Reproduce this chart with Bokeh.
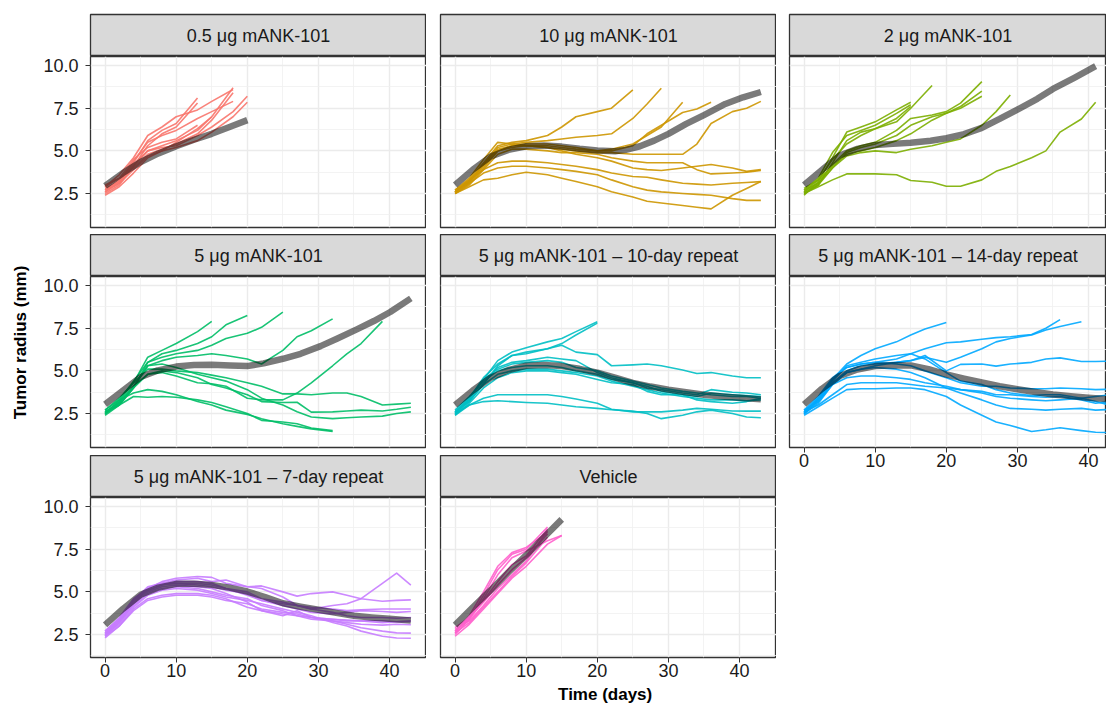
import math
from bokeh.plotting import figure
from bokeh.models import Range1d, FixedTicker, Grid, LinearAxis, PrintfTickFormatter
from bokeh.layouts import row, column
from bokeh.core.properties import value
from bokeh.embed import file_html
from bokeh.resources import INLINE

FONT = "Liberation Sans"

# ---------------- data ----------------
PANEL_TITLES = [
    "0.5 \u03bcg mANK-101", "10 \u03bcg mANK-101", "2 \u03bcg mANK-101",
    "5 \u03bcg mANK-101", "5 \u03bcg mANK-101 \u2013 10-day repeat", "5 \u03bcg mANK-101 \u2013 14-day repeat",
    "5 \u03bcg mANK-101 \u2013 7-day repeat", "Vehicle",
]
PANEL_COLORS = ["#F8766D", "#CD9600", "#7CAE00", "#00BE67", "#00BFC4", "#00A9FF", "#C77CFF", "#FF61CC"]

X_TICKS = [0, 10, 20, 30, 40]
X_MINOR = [5, 15, 25, 35]
Y_TICKS = [2.5, 5.0, 7.5, 10.0]
Y_MINOR = [1.25, 3.75, 6.25, 8.75]

DAYS_LONG = [0, 2, 4, 6, 8, 10, 13, 15, 17, 20, 22, 25, 27, 29, 32, 34, 36, 39, 41, 43]
TREND_DAYS_LONG = [0, 2.5, 5, 7.5, 10, 12.5, 15, 17.5, 20, 22.5, 25, 27.5, 30, 32.5, 35, 37.5, 40, 43]

# 0.5 ug
DAYS_05 = [0, 2, 4, 6, 8, 10, 13, 15, 18, 20]
MICE_05 = [
    [2.7, 3.3, 4.3, 5.6, 6.2, 6.6, 8.1],
    [2.6, 3.1, 4.1, 5.3, 6.0, 6.4, 7.8],
    [2.8, 3.2, 4.2, 5.0, 5.3, 5.6, 6.2, 7.0, 8.7],
    [2.9, 3.4, 4.0, 4.8, 5.1, 5.4, 6.0, 6.8, 8.4],
    [2.5, 3.0, 4.1, 5.0, 5.2, 5.3, 5.9, 6.4, 7.3, 8.2],
    [2.7, 3.1, 3.9, 4.7, 5.0, 5.2, 5.6, 6.1, 7.0, 7.85],
    [2.9, 3.6, 4.6, 5.9, 6.4, 7.0, 7.4, 7.9, 8.6],
    [2.6, 3.2, 4.4, 5.5, 5.9, 6.2, 6.9, 7.3, 7.9],
    [2.4, 2.9, 3.7, 4.6, 5.0, 5.5, 6.3, 7.0],
    [3.0, 3.4, 4.5, 5.2, 5.5, 5.7, 6.5],
]
TREND_DAYS_05 = [0, 2.5, 5, 7.5, 10, 12.5, 15, 17.5, 20]
TREND_05 = [2.95, 3.7, 4.35, 4.85, 5.27, 5.65, 6.0, 6.4, 6.8]

# 10 ug
MICE_10 = [
    [2.6, 3.3, 4.3, 5.3, 5.5, 5.6, 5.9, 6.4, 7.0, 7.3, 7.5, 8.57],
    [2.7, 3.4, 4.5, 5.5, 5.4, 5.5, 5.6, 5.7, 5.8, 5.9, 6.0, 6.9, 7.75, 8.67],
    [2.6, 3.2, 4.2, 5.2, 5.4, 5.3, 5.3, 5.2, 5.1, 5.0, 5.1, 5.4, 5.9, 6.4, 7.85],
    [2.5, 3.1, 4.0, 5.0, 5.3, 5.4, 5.4, 5.3, 5.2, 5.0, 5.0, 5.3, 6.0, 6.5, 7.25, 7.45, 7.85],
    [2.6, 3.2, 4.1, 5.0, 5.2, 5.3, 5.2, 5.1, 5.0, 4.9, 4.9, 4.8, 4.8, 4.8, 4.8, 5.4, 6.6, 7.3, 7.5, 7.9],
    [2.6, 3.2, 4.2, 5.1, 5.3, 5.3, 5.2, 5.0, 4.8, 4.6, 4.4, 4.0, 3.9, 3.85, 4.0, 4.1, 4.2, 4.0, 3.8, 3.9],
    [2.5, 3.0, 3.9, 4.8, 5.1, 5.1, 5.0, 4.9, 4.9, 4.8, 4.6, 4.4, 4.3, 4.3, 4.3, 3.9, 3.65, 3.7, 3.75, 3.85],
    [2.7, 3.3, 3.9, 4.3, 4.4, 4.4, 4.3, 4.2, 4.1, 3.9, 3.7, 3.5, 3.45, 3.3, 3.1, 3.05, 3.0, 3.1, 3.15, 3.2],
    [2.5, 2.9, 3.3, 3.4, 3.6, 3.75, 3.6, 3.4, 3.2, 2.9, 2.6, 2.3, 2.05, 1.95, 1.8, 1.7, 1.6, 2.4, 2.8, 3.2],
    [2.6, 3.1, 3.7, 4.0, 4.1, 4.1, 4.0, 3.9, 3.8, 3.6, 3.3, 2.9, 2.7, 2.6, 2.5, 2.45, 2.4, 2.2, 2.1, 2.1],
]
TREND_DAYS_10 = [0, 2.5, 5, 7.5, 10, 12.5, 15, 17.5, 20, 22.5, 24, 26, 28, 30, 32.5, 35, 38, 40.5, 43]
TREND_10 = [3.0, 3.9, 4.67, 5.06, 5.27, 5.31, 5.25, 5.12, 5.02, 4.98, 5.06, 5.27, 5.6, 6.0, 6.58, 7.1, 7.75, 8.14, 8.45]

# 2 ug
DAYS_2 = [0, 2, 4, 6, 8, 10, 13, 15, 18, 20, 22, 25, 27, 29, 32, 34, 36, 39, 41]
MICE_2 = [
    [2.5, 2.9, 3.3, 3.65, 3.65, 3.65, 3.6, 3.26, 3.16, 2.93, 2.93, 3.3, 3.8, 4.08, 4.6, 5.0, 6.1, 6.87, 7.85],
    [2.6, 3.3, 4.5, 5.4, 5.9, 6.3, 6.7, 7.5, 8.83],
    [2.4, 3.2, 4.6, 6.1, 6.4, 6.7, 7.4, 7.85],
    [2.7, 3.4, 4.9, 5.9, 6.2, 6.5, 7.2, 7.7],
    [2.5, 3.0, 4.3, 5.6, 6.1, 6.3, 6.9, 7.6],
    [2.7, 3.1, 4.2, 5.0, 5.3, 5.5, 6.2, 6.9, 7.1, 7.3, 7.8, 9.06],
    [2.5, 3.0, 4.0, 4.9, 5.2, 5.4, 5.9, 6.5, 7.0, 7.2, 7.6, 8.5],
    [2.8, 3.3, 4.1, 4.8, 5.0, 5.2, 5.6, 6.0, 6.8, 7.2, 7.5, 8.2],
    [2.6, 3.1, 4.0, 4.7, 4.9, 5.0, 4.9, 5.1, 5.3, 5.5, 5.7, 6.5, 7.3, 8.28],
]
TREND_DAYS_2 = [0, 2.8, 5, 7.5, 10, 12.5, 15, 17.8, 20, 22.5, 25, 27.5, 30, 32.8, 35, 38, 41]
TREND_2 = [3.0, 3.98, 4.73, 5.12, 5.35, 5.41, 5.47, 5.59, 5.74, 5.98, 6.35, 6.87, 7.42, 8.05, 8.63, 9.28, 9.96]

# 5 ug
MICE_5 = [
    [2.5, 3.2, 4.3, 5.8, 6.2, 6.6, 7.3, 7.9],
    [2.6, 3.0, 4.0, 5.5, 6.0, 6.2, 6.6, 7.0, 7.7, 8.24],
    [2.7, 3.3, 4.4, 5.5, 5.8, 6.0, 6.2, 6.5, 6.9, 7.2, 7.55, 8.44],
    [2.5, 3.0, 4.0, 5.3, 5.6, 5.8, 5.9, 6.0, 5.9, 5.7, 5.4, 6.2, 7.0, 7.35, 8.05],
    [2.6, 3.1, 4.1, 4.8, 4.9, 4.7, 4.3, 4.25, 4.1, 3.4, 3.3, 3.3, 3.7, 4.3, 5.3, 6.0, 6.6, 7.9],
    [2.4, 3.0, 3.5, 3.45, 3.5, 3.45, 3.3, 3.15, 2.9, 2.5, 2.1, 2.0, 1.9, 1.65, 1.5],
    [2.5, 3.3, 3.7, 3.9, 3.8, 3.6, 3.2, 3.0, 2.7, 2.45, 2.2, 1.9, 1.75, 1.6, 1.45],
    [2.7, 3.4, 4.3, 5.1, 5.1, 5.0, 4.9, 4.75, 4.6, 4.3, 4.1, 3.65, 3.65, 3.6, 3.7, 3.7, 3.5, 3.0, 3.05, 3.1],
    [2.5, 3.2, 4.0, 4.8, 5.0, 4.9, 4.6, 4.2, 4.0, 3.6, 3.2, 3.15, 3.16, 2.58, 2.6, 2.65, 2.7, 2.65, 2.75, 2.87],
    [2.6, 3.1, 4.1, 5.3, 5.4, 5.2, 4.8, 4.6, 4.4, 3.9, 3.4, 3.0, 2.6, 2.3, 2.2, 2.25, 2.3, 2.35, 2.5, 2.6],
]
TREND_DAYS_5 = [0, 2.7, 5, 7.4, 10, 12.5, 15, 17.6, 20, 22.3, 25, 27.5, 30.3, 32.6, 35.4, 37.8, 40.1, 43]
TREND_5 = [3.04, 3.9, 4.64, 5.03, 5.25, 5.34, 5.36, 5.32, 5.28, 5.44, 5.71, 6.0, 6.45, 6.88, 7.43, 7.92, 8.45, 9.25]

# 5 ug, 10-day repeat
MICE_5_10D = [
    [2.5, 3.3, 4.5, 5.6, 6.1, 6.35, 6.7, 6.9, 7.3, 7.88],
    [2.6, 3.4, 4.6, 5.4, 5.9, 6.0, 6.3, 6.6, 7.1, 7.8],
    [2.6, 3.2, 4.2, 5.3, 5.9, 6.1, 6.3, 6.5, 6.1, 5.95, 5.3, 5.35, 5.4, 5.3, 5.05, 4.85, 4.9, 4.7, 4.6, 4.6],
    [2.4, 3.0, 3.4, 3.6, 3.6, 3.6, 3.6, 3.5, 3.35, 3.1, 2.75, 2.6, 2.6, 2.6, 2.7, 2.8, 2.75, 2.65, 2.64, 2.64],
    [2.5, 3.0, 3.2, 3.25, 3.2, 3.15, 3.1, 3.0, 2.9, 2.8, 2.72, 2.64, 2.5, 2.2, 2.4, 2.6, 2.7, 2.5, 2.3, 2.25],
    [2.5, 3.4, 4.5, 5.1, 5.4, 5.5, 5.6, 5.5, 5.2, 5.0, 4.7, 4.4, 4.2, 4.0, 3.8, 3.7, 3.6, 3.5, 3.5, 3.4],
    [2.7, 3.5, 4.4, 5.0, 5.2, 5.3, 5.3, 5.2, 5.0, 4.8, 4.5, 4.3, 4.0, 3.9, 3.7, 3.6, 3.9, 3.75, 3.7, 3.6],
    [2.6, 3.3, 4.2, 4.8, 5.0, 5.1, 5.1, 5.0, 4.9, 4.7, 4.4, 4.1, 3.9, 3.7, 3.5, 3.4, 3.3, 3.3, 3.25, 3.3],
    [2.4, 3.1, 4.0, 4.6, 4.9, 5.0, 5.0, 4.9, 4.8, 4.5, 4.3, 4.2, 3.8, 3.6, 3.6, 3.3, 3.2, 3.1, 3.2, 3.4],
    [2.5, 3.2, 4.3, 5.2, 5.5, 5.6, 5.8, 5.7, 5.6, 4.9, 4.6, 4.3, 4.1, 3.8, 3.6, 3.5, 3.7, 3.6, 3.55, 3.5],
]
TREND_5_10D = [3.0, 3.85, 4.6, 5.05, 5.3, 5.35, 5.28, 5.12, 4.9, 4.6, 4.3, 4.08, 3.9, 3.75, 3.6, 3.5, 3.42, 3.33]

# 5 ug, 14-day repeat
MICE_5_14D = [
    [2.5, 3.3, 4.5, 5.4, 5.9, 6.3, 6.7, 7.1, 7.45, 7.83],
    [2.6, 3.4, 4.5, 5.2, 5.4, 5.5, 5.7, 6.0, 6.3, 6.65, 6.7, 6.85, 6.95, 7.0, 7.13, 7.5, 8.0],
    [2.7, 3.2, 4.3, 5.0, 5.3, 5.4, 5.5, 5.6, 5.8, 5.5, 5.8, 6.3, 6.7, 6.9, 7.1, 7.4, 7.6, 7.88],
    [2.5, 3.1, 4.2, 4.9, 5.1, 5.3, 5.5, 5.6, 5.9, 5.0, 5.38, 5.4, 5.28, 5.4, 5.5, 5.7, 5.76, 5.55, 5.55, 5.57],
    [2.4, 2.9, 3.4, 3.9, 3.95, 3.95, 4.0, 4.0, 3.9, 3.5, 3.0, 2.4, 2.0, 1.8, 1.45, 1.55, 1.67, 1.5, 1.4, 1.38],
    [2.6, 3.3, 4.3, 4.9, 5.1, 5.2, 5.1, 4.9, 4.6, 4.0, 3.7, 3.3, 3.0, 2.8, 2.75, 2.7, 2.75, 2.8, 2.7, 2.74],
    [2.7, 3.5, 4.6, 5.2, 5.4, 5.5, 5.4, 5.3, 5.0, 4.6, 4.3, 4.1, 4.1, 4.0, 3.95, 3.95, 4.0, 3.95, 3.9, 3.92],
    [2.5, 3.2, 4.2, 4.6, 4.7, 4.7, 4.6, 4.5, 4.3, 4.1, 3.9, 3.7, 3.5, 3.4, 3.3, 3.25, 3.3, 3.4, 3.2, 3.0],
    [2.6, 3.0, 3.6, 4.2, 4.3, 4.3, 4.3, 4.2, 4.1, 4.0, 3.9, 3.8, 3.6, 3.6, 3.5, 3.45, 3.5, 3.3, 3.1, 3.2],
    [2.5, 3.4, 4.4, 5.3, 5.5, 5.7, 5.9, 6.0, 5.7, 4.9, 4.4, 4.2, 3.9, 3.7, 3.55, 3.6, 3.6, 3.4, 3.5, 3.6],
]
TREND_5_14D = [3.04, 3.95, 4.7, 5.08, 5.28, 5.33, 5.32, 5.1, 4.8, 4.55, 4.32, 4.1, 3.92, 3.76, 3.62, 3.52, 3.43, 3.33]

# 5 ug, 7-day repeat
MICE_5_7D = [
    [2.4, 3.2, 4.3, 5.2, 5.6, 5.8, 5.9, 5.85, 5.5, 5.3, 5.2, 4.7, 4.2, 4.0, 4.2, 4.3, 4.6, 5.5, 6.1, 5.4],
    [2.6, 3.4, 4.5, 5.3, 5.5, 5.7, 5.8, 5.6, 5.7, 5.3, 5.35, 5.0, 4.75, 4.9, 5.0, 4.8, 4.6, 4.45, 4.5, 4.53],
    [2.5, 3.3, 4.4, 5.1, 5.4, 5.6, 5.6, 5.5, 5.2, 4.8, 4.5, 4.3, 4.2, 4.1, 4.0, 3.9, 3.95, 4.0, 4.0, 4.0],
    [2.7, 3.5, 4.6, 5.2, 5.5, 5.5, 5.4, 5.3, 5.1, 4.9, 4.5, 4.2, 4.0, 3.8, 3.7, 3.8, 3.9, 3.85, 3.8, 3.85],
    [2.4, 3.0, 3.9, 4.5, 4.7, 4.8, 4.8, 4.7, 4.5, 4.3, 4.0, 3.8, 3.7, 3.5, 3.4, 3.35, 3.3, 3.3, 3.25, 3.26],
    [2.6, 3.3, 4.3, 5.0, 5.3, 5.4, 5.3, 5.2, 4.9, 4.4, 3.9, 3.6, 3.9, 3.5, 3.3, 3.2, 3.1, 3.05, 3.1, 3.07],
    [2.5, 3.2, 4.2, 4.9, 5.2, 5.3, 5.2, 5.0, 4.8, 4.6, 4.2, 3.9, 3.6, 3.4, 3.3, 3.1, 2.9, 2.7, 2.6, 2.58],
    [2.5, 3.1, 4.1, 4.8, 5.1, 5.2, 5.1, 4.9, 4.7, 4.5, 4.3, 4.0, 3.8, 3.6, 3.2, 3.0, 2.7, 2.4, 2.3, 2.28],
    [2.7, 3.4, 4.5, 5.1, 5.4, 5.5, 5.5, 5.4, 5.2, 5.0, 4.6, 4.4, 4.2, 4.0, 3.8, 3.6, 3.5, 3.5, 3.45, 3.5],
    [2.3, 3.0, 4.0, 4.6, 4.8, 4.9, 4.9, 4.8, 4.6, 4.1, 3.9, 3.7, 3.6, 3.5, 3.4, 3.3, 3.3, 3.2, 3.25, 3.3],
]
TREND_5_7D = [3.07, 4.0, 4.83, 5.25, 5.47, 5.47, 5.41, 5.25, 5.02, 4.7, 4.33, 4.13, 3.95, 3.77, 3.6, 3.5, 3.42, 3.32]

# Vehicle
DAYS_VEH = [0, 2, 4, 6, 8, 10, 13, 15]
MICE_VEH = [
    [2.5, 3.4, 4.8, 6.3, 7.2, 7.5, 8.8],
    [2.6, 3.6, 5.0, 6.5, 7.3, 7.6, 8.5],
    [2.7, 3.5, 4.6, 6.0, 7.0, 7.4, 8.0, 8.3],
    [2.8, 3.3, 4.2, 5.2, 6.0, 6.8, 8.6],
    [2.6, 3.2, 4.1, 5.0, 5.9, 6.7, 8.2],
    [2.9, 3.5, 4.4, 5.4, 6.3, 7.0, 8.4],
    [2.4, 3.1, 4.0, 4.9, 5.8, 6.5, 7.8, 8.3],
    [2.7, 3.4, 4.5, 5.6, 6.6, 7.1, 8.7],
]
TREND_DAYS_VEH = [0, 2.5, 5, 7.5, 10, 12.5, 15]
TREND_VEH = [3.05, 4.1, 5.1, 6.15, 7.15, 8.2, 9.25]

PANELS = [
    (DAYS_05, MICE_05, TREND_DAYS_05, TREND_05),
    (DAYS_LONG, MICE_10, TREND_DAYS_10, TREND_10),
    (DAYS_2, MICE_2, TREND_DAYS_2, TREND_2),
    (DAYS_LONG, MICE_5, TREND_DAYS_5, TREND_5),
    (DAYS_LONG, MICE_5_10D, TREND_DAYS_LONG, TREND_5_10D),
    (DAYS_LONG, MICE_5_14D, TREND_DAYS_LONG, TREND_5_14D),
    (DAYS_LONG, MICE_5_7D, TREND_DAYS_LONG, TREND_5_7D),
    (DAYS_VEH, MICE_VEH, TREND_DAYS_VEH, TREND_VEH),
]

# ---------------- layout / styling ----------------
X_START, X_END = -2.05, 45.2
Y_START, Y_END = 0.51, 10.53
FW = 336
PX_PER_DAY = FW / (X_END - X_START)
FW3 = 317
X_END3 = X_START + FW3 / PX_PER_DAY
FH = 171
PX_PER_UNIT = FH / (Y_END - Y_START)
FH3 = 160
Y_START3 = Y_END - FH3 / PX_PER_UNIT
HH = 42
BORDER = "#333333"
TICK_FONT = "18px"
STRIP_FONT = "18px"
TITLE_FONT = "17px"


def header(title, lb, fw, tb):
    p = figure(width=lb + fw, height=tb + HH, x_range=Range1d(0, 1), y_range=Range1d(0, 1),
               x_axis_type=None, y_axis_type=None, toolbar_location=None, output_backend="svg",
               min_border_left=lb, min_border_right=0, min_border_top=tb, min_border_bottom=0)
    p.background_fill_color = "#D9D9D9"
    p.border_fill_color = "white"
    p.outline_line_color = BORDER
    p.outline_line_width = 1.3
    p.text(x=[0.5], y=[0.5], text=[title], text_align="center", text_baseline="middle",
           text_font=value(FONT), text_font_size=STRIP_FONT, text_color="#1A1A1A")
    return p


def panel(i, lb, fw, fh, bb, x_end, y_start, show_x, show_y):
    p = figure(width=lb + fw, height=fh + bb, x_range=Range1d(X_START, x_end),
               y_range=Range1d(y_start, Y_END), x_axis_type=None, y_axis_type=None,
               toolbar_location=None, output_backend="svg",
               min_border_left=lb, min_border_right=0, min_border_top=0, min_border_bottom=bb)
    p.background_fill_color = "white"
    p.border_fill_color = "white"
    p.outline_line_color = BORDER
    p.outline_line_width = 1.3
    for dim, ticks, minor in ((0, X_TICKS, X_MINOR), (1, Y_TICKS, Y_MINOR)):
        p.add_layout(Grid(dimension=dim, ticker=FixedTicker(ticks=ticks, minor_ticks=minor),
                          grid_line_color="#EBEBEB", grid_line_width=1.4,
                          minor_grid_line_color="#F0F0F0", minor_grid_line_width=0.8))
    if show_x:
        ax = LinearAxis(ticker=FixedTicker(ticks=X_TICKS))
        ax.axis_line_color = None
        ax.major_tick_line_color = BORDER
        ax.major_tick_out = 5
        ax.major_tick_in = 0
        ax.minor_tick_line_color = None
        ax.major_label_standoff = 1
        ax.major_label_text_font = FONT
        ax.major_label_text_font_size = TICK_FONT
        ax.major_label_text_color = "#1A1A1A"
        p.add_layout(ax, "below")
    if show_y:
        ay = LinearAxis(ticker=FixedTicker(ticks=Y_TICKS), formatter=PrintfTickFormatter(format="%.1f"))
        ay.axis_line_color = None
        ay.major_tick_line_color = BORDER
        ay.major_tick_out = 5
        ay.major_tick_in = 0
        ay.minor_tick_line_color = None
        ay.major_label_standoff = 7
        ay.major_label_text_font = FONT
        ay.major_label_text_font_size = TICK_FONT
        ay.major_label_text_color = "#1A1A1A"
        p.add_layout(ay, "left")
    days, mice, tdays, tvals = PANELS[i]
    for vals in mice:
        p.line(days[:len(vals)], vals, line_color=PANEL_COLORS[i], line_width=1.6,
               line_alpha=0.9, line_join="round")
    p.line(tdays, tvals, line_color="black", line_alpha=0.52, line_width=6.5, line_join="round")
    return p


LB1, LB2, LB3 = 60, 14, 13
TOP = 14
BB3 = 25
col1 = column(
    header(PANEL_TITLES[0], LB1, FW, TOP), panel(0, LB1, FW, FH, 7, X_END, Y_START, False, True),
    header(PANEL_TITLES[3], LB1, FW, 0), panel(3, LB1, FW, FH, 8, X_END, Y_START, False, True),
    header(PANEL_TITLES[6], LB1, FW, 0), panel(6, LB1, FW, FH3, BB3, X_END, Y_START3, True, True),
)
H1 = (TOP + HH) + (FH + 7) + HH + (FH + 8) + HH + (FH3 + BB3)

# bottom axis title
XL_H = 706 - H1
xl = figure(width=LB2 + FW, height=XL_H, x_range=Range1d(0, 1), y_range=Range1d(0, XL_H),
            x_axis_type=None, y_axis_type=None, toolbar_location=None, output_backend="svg",
            min_border_left=LB2, min_border_right=0, min_border_top=0, min_border_bottom=0)
xl.outline_line_color = None
xl.text(x=[0.49], y=[XL_H / 2], text=["Time (days)"], text_align="center", text_baseline="middle",
        text_font=value(FONT), text_font_size=TITLE_FONT, text_font_style="bold", text_color="black")
col2 = column(
    header(PANEL_TITLES[1], LB2, FW, TOP), panel(1, LB2, FW, FH, 7, X_END, Y_START, False, False),
    header(PANEL_TITLES[4], LB2, FW, 0), panel(4, LB2, FW, FH, 8, X_END, Y_START, False, False),
    header(PANEL_TITLES[7], LB2, FW, 0), panel(7, LB2, FW, FH3, BB3, X_END, Y_START3, True, False),
    xl,
)
col3 = column(
    header(PANEL_TITLES[2], LB3, FW3, TOP), panel(2, LB3, FW3, FH, 7, X_END3, Y_START, False, False),
    header(PANEL_TITLES[5], LB3, FW3, 0), panel(5, LB3, FW3, FH, 30, X_END3, Y_START, True, False),
)
# left axis title
yl = figure(width=30, height=H1, x_range=Range1d(0, 30), y_range=Range1d(0, H1),
            x_axis_type=None, y_axis_type=None, toolbar_location=None, output_backend="svg",
            min_border_left=0, min_border_right=0, min_border_top=0, min_border_bottom=0)
yl.outline_line_color = None
yl.text(x=[20], y=[H1 - 342], text=["Tumor radius (mm)"], angle=math.pi / 2,
        text_align="center", text_baseline="middle", text_font=value(FONT),
        text_font_size=TITLE_FONT, text_font_style="bold", text_color="black")

layout = row(yl, col1, col2, col3)
open("out.html", "w").write(file_html(layout, INLINE))
